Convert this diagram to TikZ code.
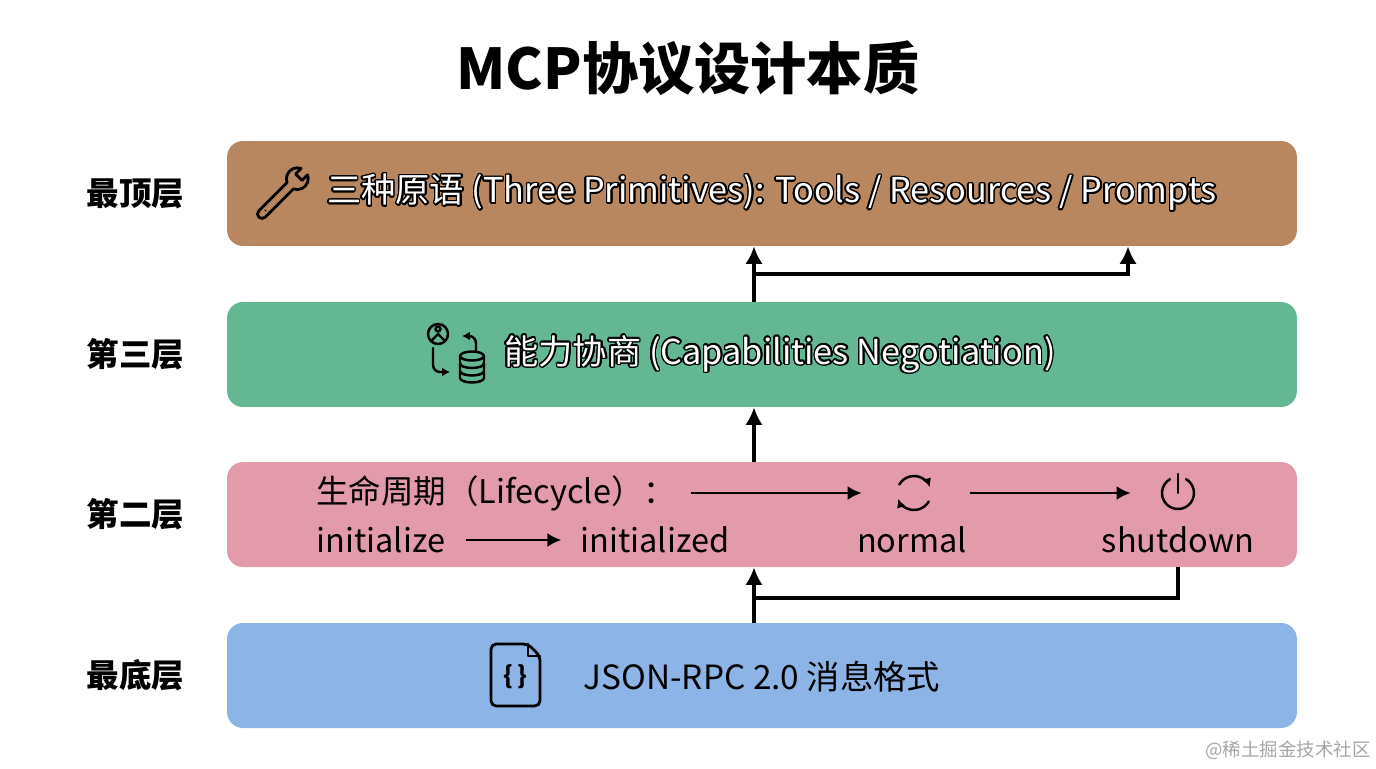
\documentclass[tikz,border=0pt]{standalone}
\usepackage{fontspec}
\setmainfont{Noto Sans CJK SC}
\usepackage[copies]{contour}
\usetikzlibrary{arrows.meta,positioning}
\definecolor{brownbar}{HTML}{B8875F}
\definecolor{greenbar}{HTML}{63B792}
\definecolor{pinkbar}{HTML}{E39AAA}
\definecolor{bluebar}{HTML}{8DB4E6}
\contourlength{0.9pt}
\tikzset{
    layer-box/.style = {rectangle, rounded corners=9pt, minimum width=21.4cm, minimum height=2.1cm, inner sep=0pt},
    layer-label/.style = {font=\fontsize{18.5}{20}\selectfont\bfseries, text=black, inner sep=0pt},
    bar-text/.style = {font=\fontsize{19.5}{22}\selectfont, text=white, inner sep=0pt},
    life-text/.style = {font=\fontsize{18.5}{21}\selectfont, text=black, inner sep=0pt},
    flow-arrow/.style = {line width=2pt, -{Latex[length=10pt,width=10pt]}},
    step-arrow/.style = {line width=1.5pt, -{Latex[length=8pt,width=8pt]}},
    icon-line/.style = {line width=1.4pt, line cap=round, line join=round},
    icon-spot/.style = {circle, minimum size=0.8cm, inner sep=0pt},
}

\begin{document}
\begin{tikzpicture}[x=0.02cm, y=-0.02cm]
\useasboundingbox (0,0) rectangle (1376,768);
\node[font=\fontsize{32}{36}\selectfont\bfseries] (title) at (688,68) {MCP协议设计本质};

\node[layer-box, fill=brownbar] (primbar) at (762,193.5) {};
\node[layer-box, fill=greenbar] (capbar) at (762,354.5) {};
\node[layer-box, fill=pinkbar] (lifebar) at (762,514.5) {};
\node[layer-box, fill=bluebar] (jsonbar) at (762,675.5) {};

\node[layer-label, left=24pt of primbar] (primlabel) {最顶层};
\node[layer-label, left=24pt of capbar] (caplabel) {第三层};
\node[layer-label, left=24pt of lifebar] (lifelabel) {第二层};
\node[layer-label, left=24pt of jsonbar] (jsonlabel) {最底层};

\node[bar-text] (primtxt) at (772,193) {\contour{black}{三种原语 (Three Primitives): Tools / Resources / Prompts}};
\node[bar-text] (captxt) at (780,355) {\contour{black}{能力协商 (Capabilities Negotiation)}};
\node[life-text, font=\fontsize{19}{22}\selectfont] (jsontxt) at (762,677) {JSON-RPC 2.0 消息格式};

\node[life-text, anchor=west] (lifetitle) at (316,493) {生命周期（Lifecycle）：};
\node[life-text] (init) at (381,540) {initialize};
\node[life-text] (inited) at (655,540) {initialized};
\node[life-text] (normal) at (912,540) {normal};
\node[life-text] (shutdown) at (1178,540) {shutdown};
\node[icon-spot] (refresh) at (914,493) {};
\node[icon-spot] (power) at (1178,493) {};

\draw[step-arrow, shorten <=0.3cm, shorten >=0.64cm] (lifetitle.east) -- (lifetitle.east -| refresh.west);
\draw[step-arrow, shorten <=0.72cm, shorten >=0.54cm] (refresh.east) -- (power.west);
\draw[step-arrow, shorten <=0.4cm, shorten >=0.38cm] (init.east) -- (inited.west);

\draw[icon-line, -{Latex[length=5pt,width=5pt]}] (refresh.center) ++(-150:17) arc[start angle=-150, end angle=-20, radius=17];
\draw[icon-line, -{Latex[length=5pt,width=5pt]}] (refresh.center) ++(30:17) arc[start angle=30, end angle=160, radius=17];
\draw[icon-line] (power.center) ++(-60:16) arc[start angle=-60, end angle=240, radius=16];
\draw[icon-line] (power.center) -- ++(0,-19);

\begin{scope}[shift={(262,214)}, rotate=45]
\draw[icon-line, line width=1.6pt] (0,4.5) -- (40,4.5) arc[start angle=155, end angle=25, radius=11] -- (52,4.5) -- (52,-4.5) -- (59.9,-4.5) arc[start angle=-25, end angle=-155, radius=11] -- (0,-4.5) arc[start angle=-90, end angle=-270, radius=4.5] -- cycle;
\fill (5,0) circle (1.3);
\end{scope}

\draw[icon-line] (438,334) circle (10);
\draw[icon-line] (431,341) -- (438,334) -- (445,341);
\draw[icon-line] (438,329) circle (2.5);
\draw[icon-line, rounded corners=4pt, -{Latex[length=4.5pt,width=5pt]}] (476,352) |- (462,336);
\draw[icon-line, rounded corners=4pt, -{Latex[length=4.5pt,width=5pt]}] (433,348) |- (450,372);
\draw[icon-line] (472,356) ellipse [x radius=12, y radius=4.5];
\draw[icon-line] (460,356) -- (460,378) arc[start angle=180, end angle=0, x radius=12, y radius=4.5] -- (484,356);
\draw[icon-line] (460,363.5) arc[start angle=180, end angle=0, x radius=12, y radius=4.5];
\draw[icon-line] (460,371) arc[start angle=180, end angle=0, x radius=12, y radius=4.5];

\draw[icon-line, line width=1.6pt, rounded corners=3pt] (528,644) -- (491,644) -- (491,706) -- (540,706) -- (540,656) -- cycle;
\draw[icon-line, line width=1.6pt] (528,644) -- (528,656) -- (540,656);
\node[font=\fontsize{14}{16}\selectfont\bfseries] (braces) at (515,677) {\{\,\}};

\coordinate (spine) at (754,0);
\coordinate (promptx) at (1128,0);
\coordinate (fork) at (754,274);
\coordinate (loop) at (754,598);
\draw[flow-arrow] (capbar.north -| spine) -- (primbar.south -| spine);
\draw[flow-arrow] (fork) -| (primbar.south -| promptx);
\draw[flow-arrow] (lifebar.north -| spine) -- (capbar.south -| spine);
\draw[flow-arrow] (jsonbar.north -| spine) -- (lifebar.south -| spine);
\draw[line width=2pt] (lifebar.south -| shutdown) |- (loop);

\node[text=black!35, font=\fontsize{10.5}{12}\selectfont] (mark) at (1288,750) {@稀土掘金技术社区};
\end{tikzpicture}
\end{document}
